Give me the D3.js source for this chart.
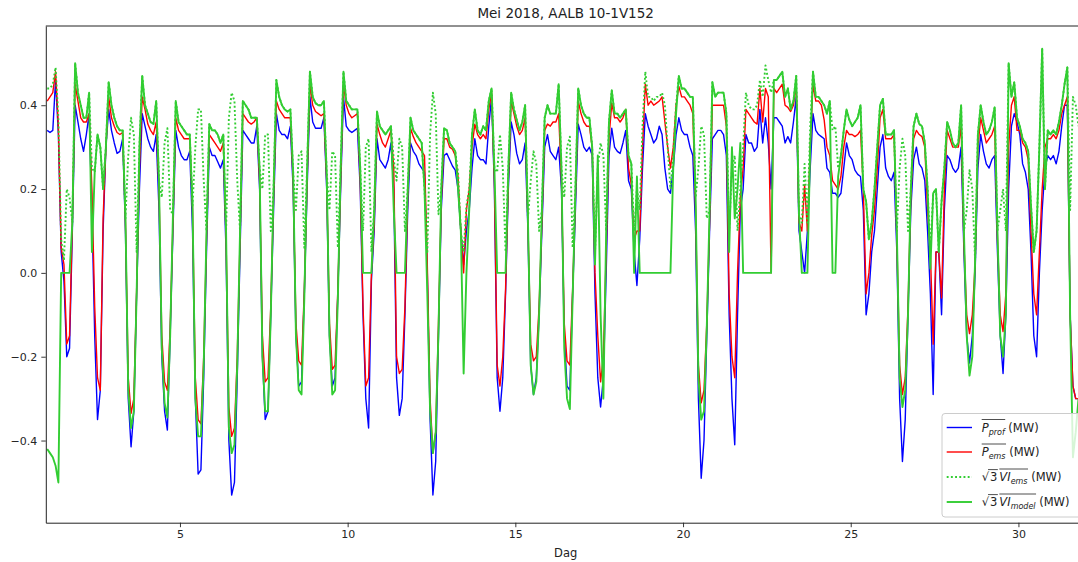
<!DOCTYPE html>
<html>
<head>
<meta charset="utf-8">
<script src="https://cdn.jsdelivr.net/npm/d3@7"></script>
<style>
  body { margin: 0; background: #fff; }
  svg { display: block; font-family: "DejaVu Sans", sans-serif; }
</style>
</head>
<body>
<svg id="chart" width="1078" height="562"></svg>
<script>
// one value per 2 hours (01:00, 03:00, ... 23:00), one line per day of May 2018
const pProf = [
  0.34, 0.335, 0.34, 0.46, 0.33, 0.05, -0.02, -0.20, -0.18, 0.10, 0.40, 0.36,
  0.32, 0.29, 0.33, 0.38, 0.15, -0.15, -0.35, -0.28, 0.10, 0.30, 0.39, 0.34,
  0.31, 0.285, 0.29, 0.32, 0.10, -0.30, -0.415, -0.33, -0.05, 0.20, 0.38, 0.35,
  0.32, 0.30, 0.29, 0.33, 0.15, -0.20, -0.33, -0.375, -0.15, 0.10, 0.34, 0.30,
  0.28, 0.27, 0.27, 0.29, 0.10, -0.30, -0.48, -0.47, -0.25, 0.05, 0.30, 0.28,
  0.28, 0.265, 0.25, 0.27, 0.05, -0.40, -0.53, -0.50, -0.25, 0.05, 0.34, 0.33,
  0.32, 0.31, 0.31, 0.35, 0.20, -0.20, -0.35, -0.33, -0.10, 0.15, 0.38, 0.34,
  0.33, 0.33, 0.32, 0.35, 0.20, -0.15, -0.27, -0.26, -0.05, 0.20, 0.42, 0.36,
  0.345, 0.345, 0.345, 0.37, 0.20, -0.15, -0.27, -0.25, -0.05, 0.20, 0.42, 0.35,
  0.34, 0.335, 0.34, 0.345, 0.20, -0.10, -0.30, -0.37, -0.02, 0.10, 0.32, 0.27,
  0.26, 0.25, 0.27, 0.31, 0.20, -0.25, -0.34, -0.30, -0.10, 0.15, 0.31, 0.29,
  0.28, 0.26, 0.25, 0.24, 0.00, -0.35, -0.53, -0.45, -0.15, 0.15, 0.28, 0.285,
  0.27, 0.255, 0.245, 0.20, 0.10, 0.02, 0.10, 0.15, 0.25, 0.32, 0.28, 0.27,
  0.27, 0.26, 0.35, 0.42, 0.20, -0.25, -0.33, -0.25, -0.05, 0.20, 0.36, 0.33,
  0.285, 0.26, 0.27, 0.31, 0.10, -0.22, -0.29, -0.25, -0.10, 0.10, 0.30, 0.33,
  0.29, 0.28, 0.27, 0.30, 0.20, -0.15, -0.27, -0.28, -0.05, 0.15, 0.355, 0.33,
  0.30, 0.29, 0.30, 0.28, -0.05, -0.25, -0.32, -0.25, 0.00, 0.28, 0.345, 0.30,
  0.29, 0.285, 0.31, 0.34, 0.22, 0.20, 0.05, -0.03, 0.08, 0.25, 0.38, 0.35,
  0.33, 0.31, 0.32, 0.35, 0.33, 0.25, 0.20, 0.19, 0.25, 0.33, 0.37, 0.34,
  0.33, 0.33, 0.30, 0.28, 0.10, -0.30, -0.49, -0.40, -0.15, 0.10, 0.32, 0.33,
  0.34, 0.34, 0.33, 0.28, -0.10, -0.30, -0.41, -0.10, 0.15, 0.20, 0.33, 0.31,
  0.31, 0.29, 0.30, 0.39, 0.31, 0.37, 0.31, 0.20, 0.37, 0.37, 0.36, 0.35,
  0.31, 0.325, 0.31, 0.36, 0.42, 0.10, 0.05, 0.00, 0.10, 0.25, 0.38, 0.34,
  0.33, 0.325, 0.32, 0.25, 0.24, 0.19, 0.19, 0.18, 0.19, 0.25, 0.31, 0.28,
  0.27, 0.245, 0.235, 0.23, 0.15, -0.10, -0.05, 0.05, 0.10, 0.20, 0.30, 0.33,
  0.25, 0.23, 0.22, 0.24, 0.05, -0.30, -0.45, -0.35, -0.10, 0.15, 0.27, 0.30,
  0.26, 0.25, 0.22, 0.10, -0.05, -0.29, 0.05, 0.05, -0.10, 0.15, 0.28, 0.27,
  0.25, 0.24, 0.25, 0.30, 0.05, -0.15, -0.215, -0.15, 0.00, 0.25, 0.33, 0.29,
  0.26, 0.25, 0.27, 0.28, 0.05, -0.15, -0.24, -0.10, 0.20, 0.35, 0.38, 0.36,
  0.33, 0.26, 0.24, 0.20, 0.05, -0.15, -0.20, 0.00, 0.15, 0.25, 0.28, 0.27,
  0.28, 0.26, 0.29, 0.35, 0.40, 0.40, -0.10, -0.27, -0.30, -0.30
];

const pEms = [
  0.41, 0.42, 0.43, 0.48, 0.35, 0.06, 0.02, -0.17, -0.15, 0.12, 0.45, 0.41,
  0.37, 0.36, 0.36, 0.38, 0.20, -0.08, -0.25, -0.28, 0.13, 0.30, 0.42, 0.37,
  0.35, 0.335, 0.33, 0.335, 0.12, -0.25, -0.335, -0.30, -0.04, 0.25, 0.42, 0.39,
  0.355, 0.34, 0.33, 0.36, 0.20, -0.15, -0.26, -0.28, -0.13, 0.12, 0.37, 0.34,
  0.33, 0.32, 0.32, 0.32, 0.15, -0.25, -0.35, -0.36, -0.20, 0.08, 0.33, 0.32,
  0.31, 0.30, 0.29, 0.31, 0.08, -0.32, -0.39, -0.37, -0.20, 0.08, 0.38, 0.37,
  0.36, 0.355, 0.36, 0.37, 0.22, -0.15, -0.26, -0.25, -0.08, 0.18, 0.41, 0.39,
  0.38, 0.37, 0.37, 0.37, 0.22, -0.12, -0.21, -0.22, -0.04, 0.22, 0.45, 0.40,
  0.385, 0.38, 0.375, 0.38, 0.22, -0.12, -0.23, -0.22, -0.04, 0.22, 0.45, 0.40,
  0.38, 0.37, 0.375, 0.38, 0.22, -0.08, -0.27, -0.25, 0.00, 0.12, 0.355, 0.33,
  0.31, 0.30, 0.32, 0.34, 0.25, -0.20, -0.24, -0.23, -0.08, 0.18, 0.345, 0.325,
  0.31, 0.30, 0.29, 0.28, 0.02, -0.30, -0.43, -0.38, -0.12, 0.17, 0.32, 0.32,
  0.30, 0.295, 0.28, 0.23, 0.10, 0.00, 0.15, 0.20, 0.30, 0.355, 0.33, 0.32,
  0.33, 0.32, 0.39, 0.43, 0.22, -0.22, -0.27, -0.20, -0.04, 0.22, 0.41, 0.38,
  0.35, 0.33, 0.34, 0.37, 0.12, -0.17, -0.21, -0.20, -0.08, 0.12, 0.34, 0.355,
  0.35, 0.36, 0.36, 0.38, 0.22, -0.12, -0.21, -0.22, -0.04, 0.18, 0.41, 0.38,
  0.36, 0.35, 0.35, 0.30, 0.00, -0.15, -0.26, -0.20, 0.05, 0.32, 0.405, 0.37,
  0.37, 0.36, 0.37, 0.39, 0.25, 0.21, 0.08, 0.10, 0.10, 0.30, 0.45, 0.40,
  0.41, 0.40, 0.405, 0.41, 0.42, 0.36, 0.30, 0.25, 0.30, 0.40, 0.445, 0.42,
  0.42, 0.41, 0.40, 0.38, 0.15, -0.22, -0.31, -0.28, -0.12, 0.12, 0.40, 0.40,
  0.40, 0.40, 0.40, 0.35, -0.05, -0.20, -0.25, 0.00, 0.18, 0.25, 0.39, 0.38,
  0.37, 0.36, 0.355, 0.44, 0.36, 0.44, 0.42, 0.00, 0.44, 0.43, 0.44, 0.45,
  0.40, 0.395, 0.385, 0.40, 0.45, 0.12, 0.10, 0.21, 0.10, 0.30, 0.45, 0.41,
  0.41, 0.40, 0.365, 0.30, 0.28, 0.22, 0.21, 0.20, 0.23, 0.30, 0.34, 0.33,
  0.33, 0.325, 0.33, 0.34, 0.20, -0.05, 0.00, 0.09, 0.15, 0.25, 0.37, 0.39,
  0.32, 0.32, 0.32, 0.33, 0.08, -0.22, -0.29, -0.25, -0.08, 0.18, 0.32, 0.34,
  0.33, 0.325, 0.30, 0.15, 0.05, -0.17, 0.05, 0.05, -0.06, 0.20, 0.34, 0.32,
  0.30, 0.30, 0.30, 0.35, 0.07, -0.10, -0.145, -0.10, 0.02, 0.30, 0.37, 0.34,
  0.31, 0.32, 0.33, 0.35, 0.08, -0.10, -0.14, -0.05, 0.30, 0.40, 0.42, 0.34,
  0.34, 0.31, 0.30, 0.27, 0.10, -0.05, -0.10, 0.05, 0.20, 0.30, 0.32, 0.32,
  0.33, 0.32, 0.34, 0.38, 0.40, 0.42, -0.10, -0.27, -0.30, -0.30
];

const viEms = [
  0.44, 0.44, 0.45, 0.49, 0.37, 0.08, 0.03, 0.20, 0.18, 0.12, 0.50, 0.43,
  0.40, 0.37, 0.37, 0.43, 0.25, 0.24, 0.33, 0.30, 0.20, 0.30, 0.455, 0.40,
  0.37, 0.35, 0.34, 0.34, 0.13, 0.28, 0.37, 0.33, 0.05, 0.30, 0.47, 0.40,
  0.38, 0.36, 0.355, 0.41, 0.22, 0.18, 0.31, 0.345, 0.15, 0.14, 0.41, 0.36,
  0.35, 0.34, 0.33, 0.33, 0.16, 0.30, 0.39, 0.39, 0.22, 0.10, 0.355, 0.34,
  0.34, 0.33, 0.31, 0.33, 0.10, 0.37, 0.43, 0.41, 0.22, 0.10, 0.41, 0.40,
  0.39, 0.37, 0.37, 0.37, 0.25, 0.20, 0.33, 0.33, 0.10, 0.20, 0.46, 0.42,
  0.40, 0.39, 0.385, 0.39, 0.24, 0.15, 0.28, 0.29, 0.06, 0.25, 0.48, 0.42,
  0.405, 0.40, 0.40, 0.41, 0.24, 0.15, 0.29, 0.28, 0.06, 0.25, 0.48, 0.41,
  0.40, 0.39, 0.39, 0.39, 0.25, 0.10, 0.30, 0.32, 0.05, 0.15, 0.385, 0.35,
  0.34, 0.33, 0.34, 0.35, 0.27, 0.22, 0.32, 0.30, 0.10, 0.20, 0.37, 0.34,
  0.33, 0.32, 0.31, 0.20, 0.05, 0.33, 0.43, 0.38, 0.14, 0.20, 0.345, 0.34,
  0.31, 0.30, 0.29, 0.24, 0.10, 0.05, 0.16, 0.20, 0.33, 0.39, 0.34, 0.33,
  0.35, 0.34, 0.41, 0.44, 0.25, 0.24, 0.33, 0.25, 0.05, 0.25, 0.43, 0.39,
  0.365, 0.34, 0.36, 0.40, 0.13, 0.22, 0.29, 0.26, 0.10, 0.15, 0.37, 0.40,
  0.38, 0.38, 0.38, 0.45, 0.25, 0.18, 0.30, 0.325, 0.06, 0.20, 0.44, 0.40,
  0.38, 0.37, 0.37, 0.30, 0.05, 0.25, 0.31, 0.28, 0.10, 0.36, 0.435, 0.38,
  0.38, 0.37, 0.38, 0.39, 0.28, 0.26, 0.10, 0.20, 0.15, 0.35, 0.48, 0.42,
  0.42, 0.41, 0.42, 0.42, 0.43, 0.40, 0.30, 0.20, 0.28, 0.40, 0.47, 0.44,
  0.44, 0.43, 0.42, 0.42, 0.18, 0.25, 0.35, 0.33, 0.13, 0.15, 0.455, 0.42,
  0.43, 0.43, 0.43, 0.38, 0.10, 0.25, 0.28, 0.10, 0.20, 0.30, 0.43, 0.40,
  0.39, 0.39, 0.40, 0.46, 0.42, 0.495, 0.46, 0.43, 0.46, 0.46, 0.47, 0.48,
  0.42, 0.44, 0.39, 0.41, 0.47, 0.14, 0.12, 0.26, 0.12, 0.35, 0.48, 0.42,
  0.42, 0.41, 0.40, 0.38, 0.41, 0.34, 0.35, 0.25, 0.28, 0.34, 0.39, 0.365,
  0.35, 0.36, 0.37, 0.40, 0.20, 0.17, 0.08, 0.12, 0.20, 0.30, 0.40, 0.415,
  0.33, 0.33, 0.33, 0.34, 0.10, 0.25, 0.32, 0.28, 0.10, 0.20, 0.35, 0.38,
  0.355, 0.35, 0.31, 0.20, 0.05, 0.19, 0.20, 0.05, 0.17, 0.25, 0.36, 0.34,
  0.31, 0.30, 0.31, 0.40, 0.10, 0.15, 0.245, 0.20, 0.03, 0.33, 0.40, 0.36,
  0.33, 0.34, 0.36, 0.395, 0.10, 0.15, 0.20, 0.10, 0.50, 0.42, 0.455, 0.37,
  0.35, 0.32, 0.31, 0.29, 0.16, 0.05, 0.10, 0.30, 0.535, 0.20, 0.34, 0.33,
  0.34, 0.33, 0.36, 0.40, 0.45, 0.49, 0.15, 0.42, 0.40, 0.35
];

const viModel = [
  -0.42, -0.43, -0.44, -0.46, -0.50, 0.00, 0.00, 0.00, 0.00, 0.12, 0.50, 0.43,
  0.40, 0.37, 0.37, 0.43, 0.05, 0.24, 0.33, 0.30, 0.20, 0.30, 0.455, 0.40,
  0.37, 0.35, 0.34, 0.34, 0.13, -0.28, -0.37, -0.33, -0.05, 0.30, 0.47, 0.40,
  0.38, 0.36, 0.355, 0.41, 0.22, -0.18, -0.31, -0.345, -0.15, 0.14, 0.41, 0.36,
  0.35, 0.34, 0.33, 0.33, 0.16, -0.30, -0.39, -0.39, -0.22, 0.10, 0.355, 0.34,
  0.34, 0.33, 0.31, 0.33, 0.10, -0.37, -0.43, -0.41, -0.22, 0.10, 0.41, 0.40,
  0.39, 0.37, 0.37, 0.37, 0.25, -0.20, -0.33, -0.33, -0.10, 0.20, 0.46, 0.42,
  0.40, 0.39, 0.385, 0.39, 0.24, -0.15, -0.28, -0.29, -0.06, 0.25, 0.48, 0.42,
  0.405, 0.40, 0.40, 0.41, 0.24, -0.15, -0.29, -0.28, -0.06, 0.25, 0.48, 0.41,
  0.40, 0.39, 0.39, 0.39, 0.25, 0.00, 0.00, 0.00, 0.00, 0.15, 0.385, 0.35,
  0.34, 0.33, 0.34, 0.35, 0.15, 0.00, 0.00, 0.00, 0.00, 0.20, 0.37, 0.34,
  0.33, 0.32, 0.31, 0.20, -0.05, -0.33, -0.43, -0.38, -0.14, 0.20, 0.345, 0.34,
  0.31, 0.30, 0.29, 0.20, 0.10, -0.24, 0.00, 0.15, 0.33, 0.39, 0.34, 0.33,
  0.35, 0.34, 0.41, 0.44, 0.25, 0.00, 0.00, 0.00, 0.00, 0.25, 0.43, 0.39,
  0.365, 0.34, 0.36, 0.40, 0.13, -0.22, -0.29, -0.26, -0.10, 0.15, 0.37, 0.40,
  0.38, 0.38, 0.38, 0.45, 0.25, -0.18, -0.30, -0.325, -0.06, 0.20, 0.44, 0.40,
  0.38, 0.37, 0.37, 0.30, 0.02, 0.28, -0.10, -0.30, 0.10, 0.36, 0.435, 0.38,
  0.38, 0.37, 0.38, 0.39, 0.28, 0.26, 0.00, 0.23, 0.00, 0.00, 0.00, 0.00,
  0.00, 0.00, 0.00, 0.00, 0.00, 0.00, 0.00, 0.00, 0.25, 0.38, 0.47, 0.44,
  0.44, 0.43, 0.42, 0.42, 0.18, -0.25, -0.35, -0.33, -0.13, 0.15, 0.455, 0.42,
  0.43, 0.43, 0.43, 0.38, 0.05, 0.30, 0.13, 0.20, 0.31, 0.00, 0.00, 0.00,
  0.00, 0.00, 0.00, 0.00, 0.00, 0.00, 0.00, 0.00, 0.46, 0.46, 0.47, 0.48,
  0.42, 0.44, 0.39, 0.41, 0.47, 0.14, 0.00, 0.00, 0.00, 0.30, 0.48, 0.42,
  0.42, 0.41, 0.40, 0.38, 0.41, 0.00, 0.00, 0.23, 0.28, 0.34, 0.39, 0.365,
  0.35, 0.36, 0.37, 0.40, 0.20, 0.17, 0.08, 0.12, 0.20, 0.30, 0.40, 0.415,
  0.33, 0.33, 0.33, 0.34, 0.10, -0.25, -0.32, -0.28, -0.10, 0.20, 0.35, 0.38,
  0.355, 0.35, 0.31, 0.20, 0.01, 0.19, 0.20, 0.05, 0.17, 0.25, 0.36, 0.34,
  0.31, 0.30, 0.31, 0.40, 0.10, -0.15, -0.245, -0.20, 0.03, 0.33, 0.40, 0.36,
  0.33, 0.34, 0.36, 0.395, 0.10, -0.15, -0.20, -0.10, 0.50, 0.42, 0.455, 0.37,
  0.35, 0.32, 0.31, 0.29, 0.16, 0.05, 0.10, 0.30, 0.535, 0.20, 0.34, 0.33,
  0.34, 0.33, 0.36, 0.40, 0.45, 0.49, -0.10, -0.44, -0.38, -0.30
];

const xTicks = [5, 10, 15, 20, 25, 30];
const yTicks = [-0.4, -0.2, 0.0, 0.2, 0.4];
const firstDay = 1;
const stepHours = 2;

const svg = d3.select("#chart");

const plotLeft = 45.8, plotRight = 1085.5, plotTop = 26, plotBottom = 522.7;

const x = d3.scaleLinear().domain([1, 32]).range([plotLeft, plotRight]);
const y = d3.scaleLinear().domain([-0.596, 0.589]).range([plotBottom, plotTop]);

function timeAt(i) {
    return firstDay + (stepHours * i + 1) / 24;
}

svg.append("defs").append("clipPath").attr("id", "plot-clip")
    .append("rect")
    .attr("x", plotLeft).attr("y", plotTop)
    .attr("width", plotRight - plotLeft).attr("height", plotBottom - plotTop);

const line = d3.line()
    .x(function(d, i) { return x(timeAt(i)); })
    .y(function(d) { return y(d); });

const series = [
    {values: pProf, color: "#0000ff", width: 1.4, dash: null},
    {values: pEms, color: "#ff0000", width: 1.4, dash: null},
    {values: viEms, color: "#32cd32", width: 1.9, dash: "1.9,2.3"},
    {values: viModel, color: "#32cd32", width: 1.9, dash: null}
];

const plot = svg.append("g").attr("clip-path", "url(#plot-clip)");

plot.selectAll("path")
    .data(series)
    .enter().append("path")
    .attr("d", function(d) { return line(d.values); })
    .attr("fill", "none")
    .attr("stroke", function(d) { return d.color; })
    .attr("stroke-width", function(d) { return d.width; })
    .attr("stroke-dasharray", function(d) { return d.dash; })
    .attr("stroke-linejoin", "round");

// axes
const xAxis = svg.append("g")
    .attr("transform", `translate(0,${plotBottom})`)
    .call(d3.axisBottom(x).tickValues(xTicks).tickSize(4.5).tickPadding(3.5).tickSizeOuter(0));

const yAxis = svg.append("g")
    .attr("transform", `translate(${plotLeft},0)`)
    .call(d3.axisLeft(y).tickValues(yTicks).tickFormat(d3.format(".1f")).tickSize(4.5).tickPadding(4).tickSizeOuter(0));

[xAxis, yAxis].forEach(function(a) {
    a.select(".domain").attr("stroke", "#222").attr("stroke-width", 1);
    a.selectAll(".tick line").attr("stroke", "#222").attr("stroke-width", 0.9);
    a.selectAll(".tick text")
        .attr("fill", "#262626")
        .style("font-size", "11px")
        .style("font-family", "DejaVu Sans, sans-serif");
});

svg.append("line")
    .attr("x1", plotLeft).attr("x2", plotRight)
    .attr("y1", plotTop).attr("y2", plotTop)
    .attr("stroke", "#222").attr("stroke-width", 1);

svg.append("line")
    .attr("x1", plotRight).attr("x2", plotRight)
    .attr("y1", plotTop).attr("y2", plotBottom)
    .attr("stroke", "#222").attr("stroke-width", 1);

svg.append("text")
    .attr("x", (plotLeft + plotRight) / 2)
    .attr("y", 18)
    .attr("text-anchor", "middle")
    .attr("fill", "#222")
    .style("font-size", "13.5px")
    .text("Mei 2018, AALB 10-1V152");

svg.append("text")
    .attr("x", (plotLeft + plotRight) / 2)
    .attr("y", 556.5)
    .attr("text-anchor", "middle")
    .attr("fill", "#222")
    .style("font-size", "11.5px")
    .text("Dag");

// legend
const legend = svg.append("g");

legend.append("rect")
    .attr("x", 942).attr("y", 413.5)
    .attr("width", 150).attr("height", 103.5)
    .attr("rx", 3)
    .attr("fill", "#ffffff").attr("fill-opacity", 0.8)
    .attr("stroke", "#cccccc").attr("stroke-width", 1);

const labels = [
    [{t: "P", it: true, over: true}, {t: "prof", it: true, sub: true, over: true}, {t: "\u00A0(MW)"}],
    [{t: "P", it: true, over: true}, {t: "ems", it: true, sub: true, over: true}, {t: "\u00A0(MW)"}],
    [{t: "\u221A", root: true}, {t: "3", arg: true}, {t: "V", it: true, over: true}, {t: "I", it: true, over: true},
     {t: "ems", it: true, sub: true, over: true}, {t: "\u00A0(MW)"}],
    [{t: "\u221A", root: true}, {t: "3", arg: true}, {t: "V", it: true, over: true}, {t: "I", it: true, over: true},
     {t: "model", it: true, sub: true, over: true}, {t: "\u00A0(MW)"}]
];
const entryY = [427.5, 452, 477, 502];

function drawLabel(parts, x0, baseline) {
    let cx = x0;
    let overStart = null, overEnd = null, rootStart = null, rootEnd = null;
    parts.forEach(function(p) {
        if (p.arg) cx += 1;
        const t = legend.append("text")
            .attr("x", cx)
            .attr("y", baseline + (p.sub ? 2.8 : 0))
            .attr("fill", "#222")
            .style("font-size", p.sub ? "8px" : "11.5px")
            .style("font-style", p.it ? "italic" : "normal")
            .style("white-space", "pre")
            .text(p.t);
        const w = t.node().getComputedTextLength();
        if (p.over) {
            if (overStart === null) overStart = cx;
            overEnd = cx + w;
        }
        if (p.root) rootStart = cx + w - 1;
        if (p.arg) rootEnd = cx + w + 0.5;
        cx += w;
        if (p.arg) cx += 2;
    });
    if (overStart !== null) {
        legend.append("line")
            .attr("x1", overStart).attr("x2", overEnd + 0.5)
            .attr("y1", baseline - 12.2).attr("y2", baseline - 12.2)
            .attr("stroke", "#222").attr("stroke-width", 0.8);
    }
    if (rootStart !== null) {
        legend.append("line")
            .attr("x1", rootStart).attr("x2", rootEnd)
            .attr("y1", baseline - 11.6).attr("y2", baseline - 11.6)
            .attr("stroke", "#222").attr("stroke-width", 0.8);
    }
}

series.forEach(function(s, i) {
    legend.append("line")
        .attr("x1", 946.7).attr("x2", 972)
        .attr("y1", entryY[i]).attr("y2", entryY[i])
        .attr("stroke", s.color)
        .attr("stroke-width", s.width)
        .attr("stroke-dasharray", s.dash);
    drawLabel(labels[i], 981.7, entryY[i] + 4.2);
});
</script>
</body>
</html>
